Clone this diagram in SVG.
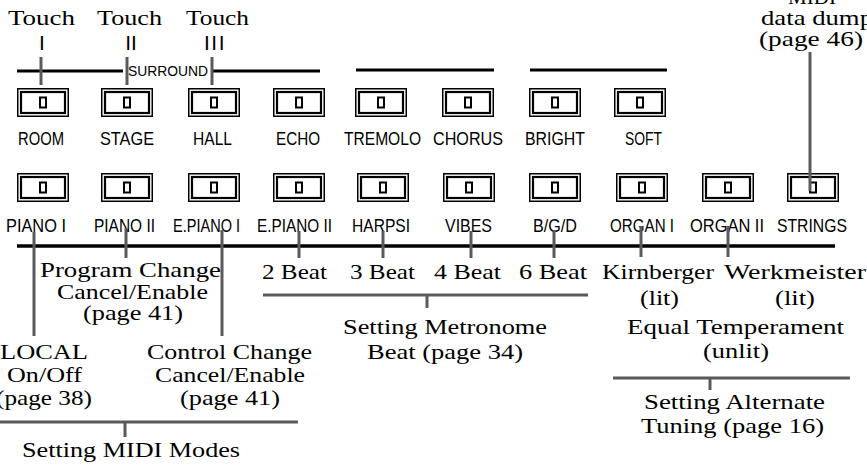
<svg xmlns="http://www.w3.org/2000/svg" xmlns:xlink="http://www.w3.org/1999/xlink" width="867" height="467" viewBox="0 0 867 467">
<style>
.sans{font-family:"Liberation Sans",Arial,sans-serif;font-size:17.5px;fill:#000}
.serif{font-family:"Liberation Serif","Times New Roman",serif;font-size:22px;fill:#000}
.bar{stroke:#000;stroke-width:3;fill:none}
.hatch{stroke:#5a5a5a;stroke-width:3;fill:none}
</style>
<defs>
<g id="button">
<rect x="0.75" y="0.75" width="50.5" height="27.5" fill="#fff" stroke="#000" stroke-width="1.5"/>
<rect x="4" y="4" width="44" height="21" fill="none" stroke="#000" stroke-width="2.2"/>
<rect x="23" y="9.5" width="6" height="10" fill="none" stroke="#000" stroke-width="2"/>
</g>
</defs>
<rect width="867" height="467" fill="#fff"/>

<g id="buttons-row1">
<g id="btn-room"><use xlink:href="#button" x="17" y="88"/><text class="sans" x="18" y="145" textLength="46" lengthAdjust="spacingAndGlyphs">ROOM</text></g>
<g id="btn-stage"><use xlink:href="#button" x="101" y="88"/><text class="sans" x="100" y="145" textLength="54" lengthAdjust="spacingAndGlyphs">STAGE</text></g>
<g id="btn-hall"><use xlink:href="#button" x="188" y="88"/><text class="sans" x="193" y="145" textLength="39" lengthAdjust="spacingAndGlyphs">HALL</text></g>
<g id="btn-echo"><use xlink:href="#button" x="273" y="88"/><text class="sans" x="276" y="145" textLength="44" lengthAdjust="spacingAndGlyphs">ECHO</text></g>
<g id="btn-tremolo"><use xlink:href="#button" x="355" y="88"/><text class="sans" x="344" y="145" textLength="77" lengthAdjust="spacingAndGlyphs">TREMOLO</text></g>
<g id="btn-chorus"><use xlink:href="#button" x="442" y="88"/><text class="sans" x="433" y="145" textLength="70" lengthAdjust="spacingAndGlyphs">CHORUS</text></g>
<g id="btn-bright"><use xlink:href="#button" x="529" y="88"/><text class="sans" x="525" y="145" textLength="60" lengthAdjust="spacingAndGlyphs">BRIGHT</text></g>
<g id="btn-soft"><use xlink:href="#button" x="614" y="88"/><text class="sans" x="625" y="145" textLength="37" lengthAdjust="spacingAndGlyphs">SOFT</text></g>
</g>

<g id="buttons-row2">
<g id="btn-piano1"><use xlink:href="#button" x="17" y="173"/><text class="sans" x="6" y="232" textLength="60" lengthAdjust="spacingAndGlyphs">PIANO I</text></g>
<g id="btn-piano2"><use xlink:href="#button" x="101" y="173"/><text class="sans" x="94" y="232" textLength="61" lengthAdjust="spacingAndGlyphs">PIANO II</text></g>
<g id="btn-epiano1"><use xlink:href="#button" x="188" y="173"/><text class="sans" x="173" y="232" textLength="67" lengthAdjust="spacingAndGlyphs">E.PIANO I</text></g>
<g id="btn-epiano2"><use xlink:href="#button" x="273" y="173"/><text class="sans" x="257" y="232" textLength="75" lengthAdjust="spacingAndGlyphs">E.PIANO II</text></g>
<g id="btn-harpsi"><use xlink:href="#button" x="357" y="173"/><text class="sans" x="352" y="232" textLength="58" lengthAdjust="spacingAndGlyphs">HARPSI</text></g>
<g id="btn-vibes"><use xlink:href="#button" x="443" y="173"/><text class="sans" x="445" y="232" textLength="47" lengthAdjust="spacingAndGlyphs">VIBES</text></g>
<g id="btn-bgd"><use xlink:href="#button" x="529" y="173"/><text class="sans" x="533" y="232" textLength="44" lengthAdjust="spacingAndGlyphs">B/G/D</text></g>
<g id="btn-organ1"><use xlink:href="#button" x="616" y="173"/><text class="sans" x="610" y="232" textLength="64" lengthAdjust="spacingAndGlyphs">ORGAN I</text></g>
<g id="btn-organ2"><use xlink:href="#button" x="702" y="173"/><text class="sans" x="690" y="232" textLength="74" lengthAdjust="spacingAndGlyphs">ORGAN II</text></g>
<g id="btn-strings"><use xlink:href="#button" x="787" y="173"/><text class="sans" x="777" y="232" textLength="70" lengthAdjust="spacingAndGlyphs">STRINGS</text></g>
</g>

<g id="connectors">
<line class="bar" x1="17" y1="71" x2="123" y2="71"/>
<line class="bar" x1="211" y1="71" x2="320" y2="71"/>
<line class="bar" x1="356" y1="70" x2="494" y2="70"/>
<line class="bar" x1="530" y1="70" x2="667" y2="70"/>
<line class="bar" x1="17" y1="246" x2="835" y2="246" style="stroke-width:3.5"/>
<line class="hatch" x1="41" y1="57" x2="41" y2="85"/>
<line class="hatch" x1="127" y1="57" x2="127" y2="85"/>
<line class="hatch" x1="212" y1="57" x2="212" y2="85"/>
<line class="hatch" x1="810" y1="52" x2="810" y2="191"/>
<line class="hatch" x1="34" y1="232" x2="34" y2="336"/>
<line class="hatch" x1="126" y1="228" x2="126" y2="258"/>
<line class="hatch" x1="222" y1="230" x2="222" y2="336"/>
<line class="hatch" x1="299" y1="231" x2="299" y2="258"/>
<line class="hatch" x1="383" y1="231" x2="383" y2="258"/>
<line class="hatch" x1="471" y1="231" x2="471" y2="258"/>
<line class="hatch" x1="554" y1="231" x2="554" y2="258"/>
<line class="hatch" x1="641" y1="226" x2="641" y2="257"/>
<line class="hatch" x1="728" y1="226" x2="728" y2="257"/>
<line class="hatch" x1="263" y1="295" x2="588" y2="295"/>
<line class="hatch" x1="427" y1="295" x2="427" y2="308"/>
<line class="hatch" x1="613" y1="378" x2="850" y2="378"/>
<line class="hatch" x1="710" y1="378" x2="710" y2="390"/>
<line class="hatch" x1="0" y1="422" x2="298" y2="422"/>
<line class="hatch" x1="125" y1="422" x2="125" y2="437"/>
</g>

<g id="surround-label"><text class="sans" x="128" y="76" style="font-size:14.5px" textLength="80" lengthAdjust="spacingAndGlyphs">SURROUND</text></g>

<g id="touch1"><text class="serif" x="8" y="25" textLength="67" lengthAdjust="spacingAndGlyphs">Touch</text><text class="sans" x="42" y="50" text-anchor="middle" style="font-size:21px">I</text></g>
<g id="touch2"><text class="serif" x="97" y="25" textLength="65" lengthAdjust="spacingAndGlyphs">Touch</text><text class="sans" x="131" y="50" text-anchor="middle" style="font-size:21px">II</text></g>
<g id="touch3"><text class="serif" x="186" y="25" textLength="63" lengthAdjust="spacingAndGlyphs">Touch</text><text class="sans" x="215" y="50" text-anchor="middle" style="font-size:21px;letter-spacing:1.5px">III</text></g>

<g id="midi-dump">
<text class="serif" x="788" y="4" textLength="48" lengthAdjust="spacingAndGlyphs">MIDI</text>
<text class="serif" x="761" y="25" textLength="112" lengthAdjust="spacingAndGlyphs">data dump</text>
<text class="serif" x="759" y="46" textLength="104" lengthAdjust="spacingAndGlyphs">(page 46)</text>
</g>

<g id="program-change">
<text class="serif" x="40" y="277" textLength="181" lengthAdjust="spacingAndGlyphs">Program Change</text>
<text class="serif" x="57" y="299" textLength="151" lengthAdjust="spacingAndGlyphs">Cancel/Enable</text>
<text class="serif" x="83" y="320" textLength="100" lengthAdjust="spacingAndGlyphs">(page 41)</text>
</g>

<g id="local">
<text class="serif" x="0" y="359" textLength="88" lengthAdjust="spacingAndGlyphs">LOCAL</text>
<text class="serif" x="7" y="382" textLength="75" lengthAdjust="spacingAndGlyphs">On/Off</text>
<text class="serif" x="-4" y="405" textLength="96" lengthAdjust="spacingAndGlyphs">(page 38)</text>
</g>

<g id="control-change">
<text class="serif" x="147" y="359" textLength="165" lengthAdjust="spacingAndGlyphs">Control Change</text>
<text class="serif" x="155" y="382" textLength="150" lengthAdjust="spacingAndGlyphs">Cancel/Enable</text>
<text class="serif" x="180" y="405" textLength="100" lengthAdjust="spacingAndGlyphs">(page 41)</text>
</g>

<g id="midi-modes"><text class="serif" x="22" y="457" textLength="218" lengthAdjust="spacingAndGlyphs">Setting MIDI Modes</text></g>

<g id="beats">
<text class="serif" x="262" y="279" textLength="65" lengthAdjust="spacingAndGlyphs">2 Beat</text>
<text class="serif" x="350" y="279" textLength="65" lengthAdjust="spacingAndGlyphs">3 Beat</text>
<text class="serif" x="434" y="279" textLength="67" lengthAdjust="spacingAndGlyphs">4 Beat</text>
<text class="serif" x="519" y="279" textLength="68" lengthAdjust="spacingAndGlyphs">6 Beat</text>
</g>

<g id="metronome">
<text class="serif" x="343" y="334" textLength="204" lengthAdjust="spacingAndGlyphs">Setting Metronome</text>
<text class="serif" x="367" y="359" textLength="156" lengthAdjust="spacingAndGlyphs">Beat (page 34)</text>
</g>

<g id="kirnberger">
<text class="serif" x="602" y="279" textLength="112" lengthAdjust="spacingAndGlyphs">Kirnberger</text>
<text class="serif" x="640" y="305" textLength="39" lengthAdjust="spacingAndGlyphs">(lit)</text>
</g>

<g id="werkmeister">
<text class="serif" x="724" y="279" textLength="142" lengthAdjust="spacingAndGlyphs">Werkmeister</text>
<text class="serif" x="775" y="305" textLength="40" lengthAdjust="spacingAndGlyphs">(lit)</text>
</g>

<g id="equal-temperament">
<text class="serif" x="627" y="334" textLength="217" lengthAdjust="spacingAndGlyphs">Equal Temperament</text>
<text class="serif" x="703" y="358" textLength="66" lengthAdjust="spacingAndGlyphs">(unlit)</text>
</g>

<g id="alternate-tuning">
<text class="serif" x="644" y="409" textLength="181" lengthAdjust="spacingAndGlyphs">Setting Alternate</text>
<text class="serif" x="641" y="433" textLength="183" lengthAdjust="spacingAndGlyphs">Tuning (page 16)</text>
</g>
</svg>
